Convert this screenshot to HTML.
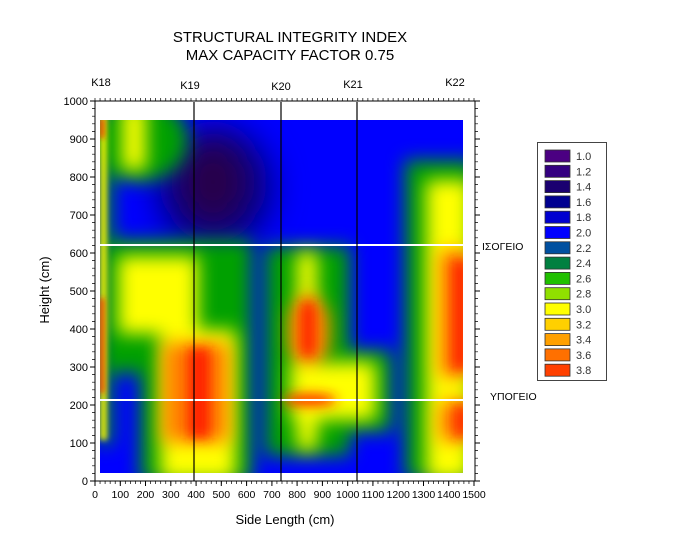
<!DOCTYPE html>
<html><head><meta charset="utf-8"><style>
body{margin:0;background:#fff;}
svg{display:block;font-family:"Liberation Sans","Noto Sans CJK SC",sans-serif;}
</style></head><body>
<svg width="686" height="540" viewBox="0 0 686 540" xmlns="http://www.w3.org/2000/svg">
<defs>
<clipPath id="c"><rect x="100" y="120" width="363" height="353"/></clipPath>
<filter id="b" filterUnits="userSpaceOnUse" x="0" y="0" width="686" height="540"><feGaussianBlur stdDeviation="9"/></filter>
<filter id="b2" filterUnits="userSpaceOnUse" x="0" y="0" width="686" height="540"><feGaussianBlur stdDeviation="16"/></filter>
<filter id="b3" filterUnits="userSpaceOnUse" x="0" y="0" width="686" height="540"><feGaussianBlur stdDeviation="6"/></filter>
<filter id="b4" filterUnits="userSpaceOnUse" x="0" y="0" width="686" height="540"><feGaussianBlur stdDeviation="3"/></filter>
</defs>
<text x="290" y="42" font-size="15" text-anchor="middle">STRUCTURAL INTEGRITY INDEX</text>
<text x="290" y="60" font-size="15" text-anchor="middle">MAX CAPACITY FACTOR 0.75</text>
<g font-size="11" text-anchor="middle">
<text x="101" y="86">K18</text><text x="190" y="89">K19</text><text x="281" y="90">K20</text><text x="353" y="88">K21</text><text x="455" y="86">K22</text>
</g>
<g clip-path="url(#c)">
<rect x="100" y="120" width="363" height="353" fill="#0000ff"/>
<g filter="url(#b2)">
<ellipse cx="215" cy="188" rx="58" ry="62" fill="#000080"/>
<ellipse cx="213" cy="182" rx="34" ry="44" fill="#28004a"/>
</g>
<g filter="url(#b)" fill="#00a000">
<rect x="100" y="110" width="12" height="335"/>
<ellipse cx="140" cy="140" rx="48" ry="42"/>
<rect x="110" y="240" width="142" height="133"/>
<rect x="140" y="373" width="112" height="110"/>
<rect x="265" y="246" width="85" height="210"/>
<rect x="280" y="350" width="112" height="82"/>
<rect x="405" y="160" width="70" height="320"/>
</g>
<g filter="url(#b)" fill="#ffff00">
<rect x="122" y="105" width="24" height="65"/>
<rect x="118" y="256" width="80" height="78"/>
<rect x="160" y="330" width="76" height="150"/>
<rect x="297" y="252" width="20" height="198"/>
<rect x="290" y="362" width="86" height="58"/>
<rect x="426" y="180" width="45" height="300"/>
</g>
<g filter="url(#b4)" fill="#e8f000">
<rect x="100" y="115" width="7" height="325"/>
</g>
<g filter="url(#b)" fill="#ff8000">
<rect x="163" y="343" width="66" height="99"/>
<polygon points="289,313 308,292 329,313 329,352 308,366 289,352"/>
<rect x="439" y="250" width="30" height="127"/>
<rect x="439" y="401" width="30" height="40"/>
</g>
<g filter="url(#b3)" fill="#ff2000">
<rect x="188" y="348" width="22" height="90"/>
<rect x="301" y="302" width="14" height="54"/>
<ellipse cx="310" cy="400" rx="27" ry="6"/>
<rect x="452" y="260" width="16" height="110"/>
<rect x="454" y="405" width="14" height="32"/>
</g>
<g filter="url(#b4)" fill="#ff2000">
<rect x="100" y="298" width="4" height="95"/>
<rect x="100" y="118" width="4" height="20"/>
</g>
</g>
<g stroke="#fff" stroke-width="2">
<line x1="95" y1="245" x2="475" y2="245"/><line x1="95" y1="400" x2="475" y2="400"/>
</g>
<g stroke="#000" stroke-width="1.2">
<line x1="194" y1="102" x2="194" y2="481"/><line x1="281" y1="102" x2="281" y2="481"/><line x1="357" y1="102" x2="357" y2="481"/>
</g>
<rect x="95" y="101" width="380" height="380" fill="none" stroke="#000" stroke-width="1"/>
<g stroke="#000" stroke-width="1">
<path d="
M95,481h-5 M95,443h-5 M95,405h-5 M95,367h-5 M95,329h-5 M95,291h-5 M95,253h-5 M95,215h-5 M95,177h-5 M95,139h-5 M95,101h-5
M95,481v5 M120.3,481v5 M145.5,481v5 M170.8,481v5 M196.1,481v5 M221.3,481v5 M246.6,481v5 M271.9,481v5 M297.1,481v5 M322.4,481v5 M347.7,481v5 M372.9,481v5 M398.2,481v5 M423.5,481v5 M448.7,481v5 M474,481v5
M475,481h5 M475,443h5 M475,405h5 M475,367h5 M475,329h5 M475,291h5 M475,253h5 M475,215h5 M475,177h5 M475,139h5 M475,101h5
"/>
</g>
<g id="minor" stroke="#000" stroke-width="0.7"></g>
<g font-size="11" text-anchor="end">
<text x="88" y="485">0</text><text x="88" y="447">100</text><text x="88" y="409">200</text><text x="88" y="371">300</text><text x="88" y="333">400</text><text x="88" y="295">500</text><text x="88" y="257">600</text><text x="88" y="219">700</text><text x="88" y="181">800</text><text x="88" y="143">900</text><text x="88" y="105">1000</text>
</g>
<g font-size="10.5" text-anchor="middle">
<text x="95" y="498">0</text><text x="120.3" y="498">100</text><text x="145.5" y="498">200</text><text x="170.8" y="498">300</text><text x="196.1" y="498">400</text><text x="221.3" y="498">500</text><text x="246.6" y="498">600</text><text x="271.9" y="498">700</text><text x="297.1" y="498">800</text><text x="322.4" y="498">900</text><text x="347.7" y="498">1000</text><text x="372.9" y="498">1100</text><text x="398.2" y="498">1200</text><text x="423.5" y="498">1300</text><text x="448.7" y="498">1400</text><text x="474" y="498">1500</text>
</g>
<text x="285" y="524" font-size="13" text-anchor="middle">Side Length (cm)</text>
<text transform="translate(49,290) rotate(-90)" font-size="13" text-anchor="middle">Height (cm)</text>
<text x="482" y="250" font-size="10.5">ΙΣΟΓΕΙΟ</text>
<text x="490" y="400" font-size="10.5">ΥΠΟΓΕΙΟ</text>
<rect x="537.5" y="142.5" width="69" height="238" fill="#fff" stroke="#444"/>
<g stroke="#333" stroke-width="0.8">
<rect x="545" y="150" width="25" height="12" fill="#4b0082"/>
<rect x="545" y="165.3" width="25" height="12" fill="#340080"/>
<rect x="545" y="180.6" width="25" height="12" fill="#1a0070"/>
<rect x="545" y="195.9" width="25" height="12" fill="#000090"/>
<rect x="545" y="211.2" width="25" height="12" fill="#0000d0"/>
<rect x="545" y="226.5" width="25" height="12" fill="#0000ff"/>
<rect x="545" y="241.8" width="25" height="12" fill="#0050a0"/>
<rect x="545" y="257.1" width="25" height="12" fill="#008040"/>
<rect x="545" y="272.4" width="25" height="12" fill="#20c000"/>
<rect x="545" y="287.7" width="25" height="12" fill="#90e000"/>
<rect x="545" y="303" width="25" height="12" fill="#ffff00"/>
<rect x="545" y="318.3" width="25" height="12" fill="#ffd000"/>
<rect x="545" y="333.6" width="25" height="12" fill="#ffa000"/>
<rect x="545" y="348.9" width="25" height="12" fill="#ff7000"/>
<rect x="545" y="364.2" width="25" height="12" fill="#ff4000"/>
</g>
<g font-size="11" fill="#333">
<text x="576" y="160">1.0</text><text x="576" y="175.3">1.2</text><text x="576" y="190.6">1.4</text><text x="576" y="205.9">1.6</text><text x="576" y="221.2">1.8</text><text x="576" y="236.5">2.0</text><text x="576" y="251.8">2.2</text><text x="576" y="267.1">2.4</text><text x="576" y="282.4">2.6</text><text x="576" y="297.7">2.8</text><text x="576" y="313">3.0</text><text x="576" y="328.3">3.2</text><text x="576" y="343.6">3.4</text><text x="576" y="358.9">3.6</text><text x="576" y="374.2">3.8</text>
</g>
<script>
var g=document.getElementById('minor'),d='';
for(var v=0;v<=1500;v+=20){var x=95+v*0.25267;d+='M'+x+',481v3M'+x+',101v-3';}
for(var v=0;v<=1000;v+=20){var y=481-v*0.38;d+='M95,'+y+'h-3M475,'+y+'h3';}
var p=document.createElementNS('http://www.w3.org/2000/svg','path');p.setAttribute('d',d);g.appendChild(p);
</script>
</svg>
</body></html>
